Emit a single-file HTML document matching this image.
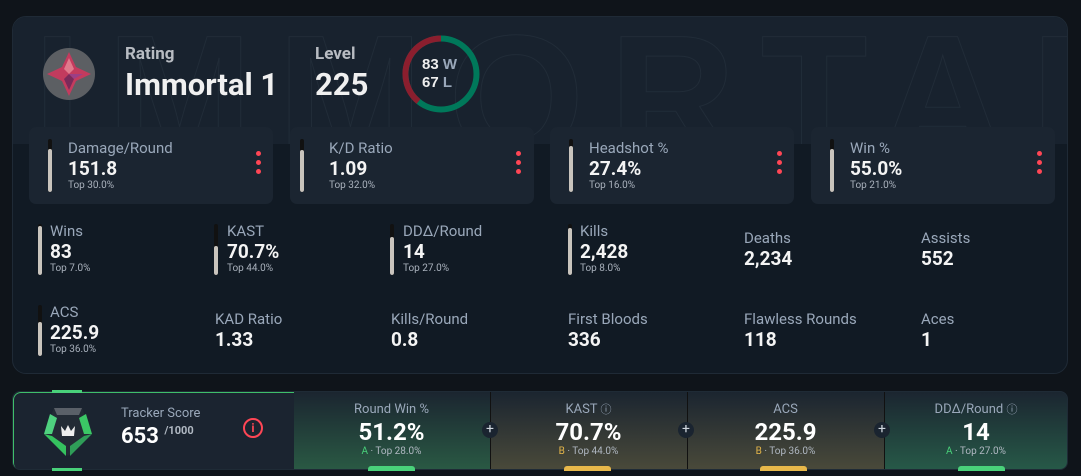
<!DOCTYPE html>
<html><head><style>
*{box-sizing:border-box;margin:0;padding:0}
body{width:1081px;height:476px;background:#0f141a;font-family:"Roboto","Liberation Sans",sans-serif;color:#fff;position:relative;overflow:hidden}
.abs{position:absolute}
.main{left:12px;top:16px;width:1056px;height:358px;border-radius:14px;background:#111a24;border:1px solid #1f2a36;overflow:hidden}
.topband{left:0;top:0;width:100%;height:127px;background:#18222e}
.card{top:110px;width:244px;height:77px;background:#1b2531;border-radius:7px}
.bar{width:4px;border-radius:2px;background:#111;overflow:hidden}
.bar i{display:block;position:absolute;bottom:0;left:0;width:4px;background:#c9c4bd;border-radius:2px}
.lbl{color:#9aa8ba;font-size:15px;line-height:18px}
.val{font-weight:bold;font-size:19px;color:#f4f4f4;line-height:22px}
.sub{font-size:10px;color:#aab2bd}
.dots{width:5px}
.dots b{display:block;width:5px;height:5px;border-radius:50%;background:#ff4655;margin-bottom:4px}
.seg{top:391px;height:79px;text-align:center}
.seg .t{font-size:13px;color:#9aa8ba;margin-top:11px;line-height:16px;height:16px}
.seg .v{font-size:24px;font-weight:bold;line-height:28px}
.seg .s{font-size:10px;color:#b0b8c2;line-height:12px}
.plus{width:16px;height:16px;border-radius:50%;background:#1a2430;color:#cfd6de;font-size:14px;line-height:15px;text-align:center;top:422px}
</style></head><body>
<div class="abs main">
 <div class="abs topband"></div>
 <svg class="abs" style="left:0;top:0" width="1056" height="127"><text x="20" y="140" font-size="175" font-family="Liberation Sans" font-weight="bold" fill="none" stroke="#212c38" stroke-width="1" letter-spacing="25">IMMORTAL</text></svg>
 <div class="abs" style="left:30px;top:31px;width:52px;height:52px;border-radius:50%;background:#5c5f63"></div>
 <svg class="abs" style="left:30px;top:31px" width="52" height="52"><polygon points="26,4 33,19 48,26 33,33 26,48 19,33 4,26 19,19" fill="#c33b5e"/><polygon points="26,10 31,21 26,26 21,21" fill="#e07a8c"/><polygon points="26,26 31,31 26,42 21,31" fill="#7a2a5a"/><polygon points="26,26 40,26 31,31" fill="#9b3f86"/></svg>
 <div class="abs" style="left:112px;top:27px;font-size:17px;font-weight:bold;color:#b8bcc2">Rating</div>
 <div class="abs" style="left:112px;top:49px;font-size:31px;font-weight:bold;color:#f0f0f0">Immortal 1</div>
 <div class="abs" style="left:302px;top:27px;font-size:17px;font-weight:bold;color:#b8bcc2">Level</div>
 <div class="abs" style="left:302px;top:49px;font-size:31px;font-weight:bold;color:#f0f0f0">225</div>
 <svg class="abs" style="left:388px;top:17px" width="82" height="82"><circle cx="40" cy="40" r="35.5" fill="none" stroke="#00785a" stroke-width="6"/><path d="M40 4.5 A35.5 35.5 0 0 0 17.5 67.5" fill="none" stroke="#8b1e2e" stroke-width="6"/><text x="21" y="35" font-size="15" font-weight="bold" fill="#eee" font-family="Liberation Sans">83 <tspan fill="#9aa8ba">W</tspan></text><text x="21" y="53" font-size="15" font-weight="bold" fill="#eee" font-family="Liberation Sans">67 <tspan fill="#9aa8ba">L</tspan></text></svg>
</div>

<div class="abs card" style="left:29px;top:127px"></div>
<div class="abs card" style="left:290px;top:127px"></div>
<div class="abs card" style="left:550px;top:127px"></div>
<div class="abs card" style="left:811px;top:127px"></div>

<div class="abs bar" style="left:48px;top:139px;height:53px"><i style="height:43px"></i></div>
<div class="abs lbl" style="left:68px;top:139px">Damage/Round</div><div class="abs val" style="left:68px;top:158px">151.8</div><div class="abs sub" style="left:68px;top:180px">Top 30.0%</div>
<div class="abs dots" style="left:256px;top:151px"><b></b><b></b><b></b></div>
<div class="abs bar" style="left:300px;top:139px;height:53px"><i style="height:42px"></i></div>
<div class="abs lbl" style="left:329px;top:139px">K/D Ratio</div><div class="abs val" style="left:329px;top:158px">1.09</div><div class="abs sub" style="left:329px;top:180px">Top 32.0%</div>
<div class="abs dots" style="left:516px;top:151px"><b></b><b></b><b></b></div>
<div class="abs bar" style="left:569px;top:139px;height:53px"><i style="height:46px"></i></div>
<div class="abs lbl" style="left:589px;top:139px">Headshot %</div><div class="abs val" style="left:589px;top:158px">27.4%</div><div class="abs sub" style="left:589px;top:180px">Top 16.0%</div>
<div class="abs dots" style="left:777px;top:151px"><b></b><b></b><b></b></div>
<div class="abs bar" style="left:830px;top:139px;height:53px"><i style="height:43px"></i></div>
<div class="abs lbl" style="left:850px;top:139px">Win %</div><div class="abs val" style="left:850px;top:158px">55.0%</div><div class="abs sub" style="left:850px;top:180px">Top 21.0%</div>
<div class="abs dots" style="left:1037px;top:151px"><b></b><b></b><b></b></div>

<div class="abs bar" style="left:38px;top:224px;height:51px"><i style="height:49px"></i></div>
<div class="abs lbl" style="left:50px;top:222px">Wins</div><div class="abs val" style="left:50px;top:241px">83</div><div class="abs sub" style="left:50px;top:263px">Top 7.0%</div>
<div class="abs bar" style="left:214px;top:224px;height:51px"><i style="height:29px"></i></div>
<div class="abs lbl" style="left:227px;top:222px">KAST</div><div class="abs val" style="left:227px;top:241px">70.7%</div><div class="abs sub" style="left:227px;top:263px">Top 44.0%</div>
<div class="abs bar" style="left:390px;top:224px;height:51px"><i style="height:38px"></i></div>
<div class="abs lbl" style="left:403px;top:222px">DDΔ/Round</div><div class="abs val" style="left:403px;top:241px">14</div><div class="abs sub" style="left:403px;top:263px">Top 27.0%</div>
<div class="abs bar" style="left:568px;top:224px;height:51px"><i style="height:47px"></i></div>
<div class="abs lbl" style="left:580px;top:222px">Kills</div><div class="abs val" style="left:580px;top:241px">2,428</div><div class="abs sub" style="left:580px;top:263px">Top 8.0%</div>
<div class="abs lbl" style="left:744px;top:229px">Deaths</div><div class="abs val" style="left:744px;top:248px">2,234</div>
<div class="abs lbl" style="left:921px;top:229px">Assists</div><div class="abs val" style="left:921px;top:248px">552</div>
<div class="abs bar" style="left:38px;top:305px;height:51px"><i style="height:34px"></i></div>
<div class="abs lbl" style="left:50px;top:303px">ACS</div><div class="abs val" style="left:50px;top:322px">225.9</div><div class="abs sub" style="left:50px;top:344px">Top 36.0%</div>
<div class="abs lbl" style="left:215px;top:310px">KAD Ratio</div><div class="abs val" style="left:215px;top:329px">1.33</div>
<div class="abs lbl" style="left:391px;top:310px">Kills/Round</div><div class="abs val" style="left:391px;top:329px">0.8</div>
<div class="abs lbl" style="left:568px;top:310px">First Bloods</div><div class="abs val" style="left:568px;top:329px">336</div>
<div class="abs lbl" style="left:744px;top:310px">Flawless Rounds</div><div class="abs val" style="left:744px;top:329px">118</div>
<div class="abs lbl" style="left:921px;top:310px">Aces</div><div class="abs val" style="left:921px;top:329px">1</div>

<div class="abs" style="left:12px;top:391px;width:1056px;height:79px;border-radius:8px;background:#1b2430;border:1px solid #1f2b36;overflow:hidden">
 <div class="abs" style="left:0;top:0;width:282px;height:79px;border:1px solid #3fbf6a;border-right:none;border-radius:8px 0 0 8px"></div>
 <div class="abs" style="left:281px;top:0;width:197px;height:79px;background:linear-gradient(#1b2530,#2a5a44);border-right:1px solid #111"></div>
 <div class="abs" style="left:478px;top:0;width:197px;height:79px;background:linear-gradient(#1b2530,#4a4a3a);border-right:1px solid #111"></div>
 <div class="abs" style="left:675px;top:0;width:197px;height:79px;background:linear-gradient(#1b2530,#4a4a3a);border-right:1px solid #111"></div>
 <div class="abs" style="left:872px;top:0;width:184px;height:79px;background:linear-gradient(#1b2530,#275a48)"></div>
</div>
<div class="abs" style="left:52px;top:390px;width:30px;height:3px;background:#49d17a"></div>
<div class="abs" style="left:52px;top:468px;width:30px;height:3px;background:#49d17a"></div>
<svg class="abs" style="left:40px;top:404px" width="56" height="56"><polygon points="14,4 42,4 52,30 28,52 4,30" fill="#232b35"/><polygon points="14,4 42,4 39,11 17,11" fill="#5a6068"/><polygon points="4,30 10,10 17,14 12,30" fill="#4fd27f"/><polygon points="52,30 46,10 39,14 44,30" fill="#3bc765"/><polygon points="4,30 12,32 26,42 26,52" fill="#35c25f"/><polygon points="52,30 44,32 30,42 30,52" fill="#2f9d58"/><polygon points="21,22 25,27 28,21 31,27 35,22 34,32 22,32" fill="#eee"/></svg>
<div class="abs" style="left:121px;top:406px;font-size:13px;color:#9aa8ba">Tracker Score</div>
<div class="abs" style="left:121px;top:424px;font-size:22px;font-weight:bold">653 <span style="font-size:11px;color:#b0b8c2;vertical-align:top">/1000</span></div>
<div class="abs" style="left:243px;top:418px;width:20px;height:20px;border:2px solid #ff4655;border-radius:50%;color:#ff4655;font-size:12px;font-weight:bold;text-align:center;line-height:16px">i</div>

<div class="abs seg" style="left:293px;width:197px"><div class="t">Round Win %</div><div class="v">51.2%</div><div class="s"><span style="color:#49d17a">A</span> · Top 28.0%</div></div>
<div class="abs seg" style="left:490px;width:197px"><div class="t">KAST <span style="font-size:11px">ⓘ</span></div><div class="v">70.7%</div><div class="s"><span style="color:#e8b84a">B</span> · Top 44.0%</div></div>
<div class="abs seg" style="left:687px;width:197px"><div class="t">ACS</div><div class="v">225.9</div><div class="s"><span style="color:#e8b84a">B</span> · Top 36.0%</div></div>
<div class="abs seg" style="left:884px;width:184px"><div class="t">DDΔ/Round <span style="font-size:11px">ⓘ</span></div><div class="v">14</div><div class="s"><span style="color:#49d17a">A</span> · Top 27.0%</div></div>
<div class="abs" style="left:368px;top:466px;width:47px;height:5px;background:#49d17a;border-radius:3px 3px 0 0"></div>
<div class="abs" style="left:564px;top:466px;width:47px;height:5px;background:#e8b84a;border-radius:3px 3px 0 0"></div>
<div class="abs" style="left:760px;top:466px;width:47px;height:5px;background:#e8b84a;border-radius:3px 3px 0 0"></div>
<div class="abs" style="left:958px;top:466px;width:47px;height:5px;background:#49d17a;border-radius:3px 3px 0 0"></div>
<div class="abs plus" style="left:482px">+</div>
<div class="abs plus" style="left:678px">+</div>
<div class="abs plus" style="left:874px">+</div>
</body></html>
